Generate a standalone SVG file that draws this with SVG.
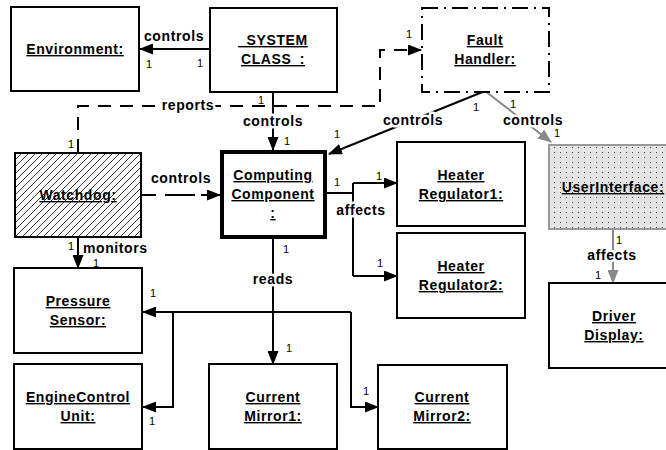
<svg xmlns="http://www.w3.org/2000/svg" width="666" height="450" viewBox="0 0 666 450">
<style>
.box{fill:#fff;stroke:#000;stroke-width:2}
.lbl{font-family:"Liberation Sans",Arial,sans-serif;font-weight:bold;font-size:14px;letter-spacing:0.6px;text-anchor:middle;text-decoration:underline;fill:#000}
.cl{font-family:"Liberation Sans",Arial,sans-serif;font-weight:bold;font-size:14px;letter-spacing:0.6px;text-anchor:middle;fill:#000;stroke:#fff;stroke-width:5px;paint-order:stroke;stroke-linejoin:round}
.m{font-family:"Liberation Sans",Arial,sans-serif;font-size:11px;text-anchor:middle;fill:#000}
.ln{fill:none;stroke:#000;stroke-width:2}
.gl{fill:none;stroke:#888;stroke-width:2}
.dash{stroke-dasharray:13 9}
</style>
<defs>
<marker id="ah" markerUnits="userSpaceOnUse" markerWidth="14" markerHeight="11" viewBox="0 0 14 11" refX="13" refY="5.5" orient="auto"><path d="M0,0 L14,5.5 L0,11z" fill="#000"/></marker>
<marker id="gh" markerUnits="userSpaceOnUse" markerWidth="14" markerHeight="11" viewBox="0 0 14 11" refX="13" refY="5.5" orient="auto"><path d="M0,0 L14,5.5 L0,11z" fill="#888"/></marker>
<pattern id="hatch" patternUnits="userSpaceOnUse" width="7" height="7"><path d="M0,7 L7,0 M-1,1 L1,-1 M6,8 L8,6" stroke="#222" stroke-width="0.9"/></pattern>
<pattern id="dots" patternUnits="userSpaceOnUse" width="6" height="5"><rect width="6" height="5" fill="#e4e4e4"/><rect x="2" y="2" width="1" height="1" fill="#444"/></pattern>
</defs>

<g id="connectors">
<!-- SYSTEM -> Environment -->
<path class="ln" d="M209,49 H140" marker-end="url(#ah)"/>
<text class="cl" x="174" y="41">controls</text>
<text class="m" x="149" y="68">1</text>
<text class="m" x="200" y="67">1</text>
<!-- reports -->
<path class="ln dash" d="M78,152 V106 H380 V50 H421" marker-end="url(#ah)"/>
<text class="cl" x="188" y="110">reports</text>
<text class="m" x="71" y="148">1</text>
<text class="m" x="409" y="38">1</text>
<!-- SYSTEM -> Computing -->
<path class="ln" d="M273,92 V150" marker-end="url(#ah)"/>
<text class="cl" x="273" y="126">controls</text>
<text class="m" x="261" y="104">1</text>
<text class="m" x="287" y="145">1</text>
<!-- Fault -> Computing -->
<path class="ln" d="M485,91 L329,154" marker-end="url(#ah)"/>
<text class="cl" x="413" y="125">controls</text>
<text class="m" x="476" y="111">1</text>
<text class="m" x="337" y="138">1</text>
<!-- Fault -> UserInterface -->
<path class="gl" d="M485,91 L551,142" marker-end="url(#gh)"/>
<text class="cl" x="533" y="125">controls</text>
<text class="m" x="513" y="108">1</text>
<text class="m" x="557" y="137">1</text>
<!-- Watchdog -> Computing -->
<path class="ln" d="M142,195 H156 M165,195 H195 M201,195 H220" marker-end="url(#ah)"/>
<text class="cl" x="181" y="183">controls</text>
<!-- Watchdog -> Pressure -->
<path class="ln" d="M78,238 V268" marker-end="url(#ah)"/>
<text class="m" x="71" y="250">1</text>
<text class="cl" x="83" y="253" style="text-anchor:start;stroke:none">monitors</text>
<text class="m" x="96" y="267">1</text>
<!-- affects -->
<path class="ln" d="M327,193 H353 M353,183 V276"/>
<path class="ln" d="M353,183 H397" marker-end="url(#ah)"/>
<path class="ln" d="M353,276 H397" marker-end="url(#ah)"/>
<text class="cl" x="361" y="215">affects</text>
<text class="m" x="337" y="186">1</text>
<text class="m" x="379" y="180">1</text>
<text class="m" x="380" y="267">1</text>
<!-- reads -->
<path class="ln" d="M273,239 V364" marker-end="url(#ah)"/>
<path class="ln" d="M351,312 H143" marker-end="url(#ah)"/>
<path class="ln" d="M173,312 V407 H143" marker-end="url(#ah)"/>
<path class="ln" d="M351,312 V407 H378" marker-end="url(#ah)"/>
<text class="cl" x="273" y="284">reads</text>
<text class="m" x="286" y="253">1</text>
<text class="m" x="153" y="297">1</text>
<text class="m" x="289" y="352">1</text>
<text class="m" x="366" y="395">1</text>
<text class="m" x="152" y="425">1</text>
<!-- UI -> Driver -->
<path class="gl" d="M613,229 V283" marker-end="url(#gh)"/>
<text class="cl" x="612" y="260">affects</text>
<text class="m" x="619" y="244">1</text>
<text class="m" x="598" y="279">1</text>
</g>

<g id="environment">
<rect class="box" x="11" y="7" width="128" height="84"/>
<text class="lbl" x="75" y="54">Environment:</text>
</g>
<g id="system-class">
<rect class="box" x="210" y="8" width="127" height="84"/>
<text class="lbl" x="273" y="45">_SYSTEM</text>
<text class="lbl" x="273" y="64">CLASS_:</text>
</g>
<g id="fault-handler">
<rect x="422" y="8" width="127" height="84" fill="#fff" stroke="#000" stroke-width="2" stroke-dasharray="16 6 2 6"/>
<text class="lbl" x="485" y="45">Fault</text>
<text class="lbl" x="485" y="64">Handler:</text>
</g>
<g id="watchdog">
<rect x="15" y="153" width="126" height="84" fill="#fff"/>
<rect x="15" y="153" width="126" height="84" fill="url(#hatch)" stroke="#000" stroke-width="2"/>
<text class="lbl" x="78" y="200">Watchdog:</text>
</g>
<g id="computing-component">
<rect x="222" y="152" width="103" height="85" fill="#fff" stroke="#000" stroke-width="4"/>
<text class="lbl" x="273" y="180">Computing</text>
<text class="lbl" x="273" y="199">Component</text>
<text class="lbl" x="273" y="218">:</text>
</g>
<g id="heater-regulator1">
<rect class="box" x="397" y="142" width="128" height="84"/>
<text class="lbl" x="461" y="180">Heater</text>
<text class="lbl" x="461" y="199">Regulator1:</text>
</g>
<g id="heater-regulator2">
<rect class="box" x="397" y="233" width="128" height="85"/>
<text class="lbl" x="461" y="271">Heater</text>
<text class="lbl" x="461" y="290">Regulator2:</text>
</g>
<g id="user-interface">
<rect x="549" y="145" width="130" height="84" fill="url(#dots)" stroke="#999" stroke-width="2"/>
<text class="lbl" x="613" y="192">UserInterface:</text>
</g>
<g id="driver-display">
<rect class="box" x="549" y="283" width="130" height="85"/>
<text class="lbl" x="614" y="321">Driver</text>
<text class="lbl" x="614" y="340">Display:</text>
</g>
<g id="pressure-sensor">
<rect class="box" x="14" y="268" width="128" height="85"/>
<text class="lbl" x="78" y="306">Pressure</text>
<text class="lbl" x="78" y="325">Sensor:</text>
</g>
<g id="engine-control-unit">
<rect class="box" x="14" y="364" width="128" height="85"/>
<text class="lbl" x="78" y="402">EngineControl</text>
<text class="lbl" x="78" y="421">Unit:</text>
</g>
<g id="current-mirror1">
<rect class="box" x="209" y="364" width="128" height="85"/>
<text class="lbl" x="273" y="402">Current</text>
<text class="lbl" x="273" y="421">Mirror1:</text>
</g>
<g id="current-mirror2">
<rect class="box" x="378" y="365" width="129" height="84"/>
<text class="lbl" x="442" y="402">Current</text>
<text class="lbl" x="442" y="421">Mirror2:</text>
</g>
</svg>
